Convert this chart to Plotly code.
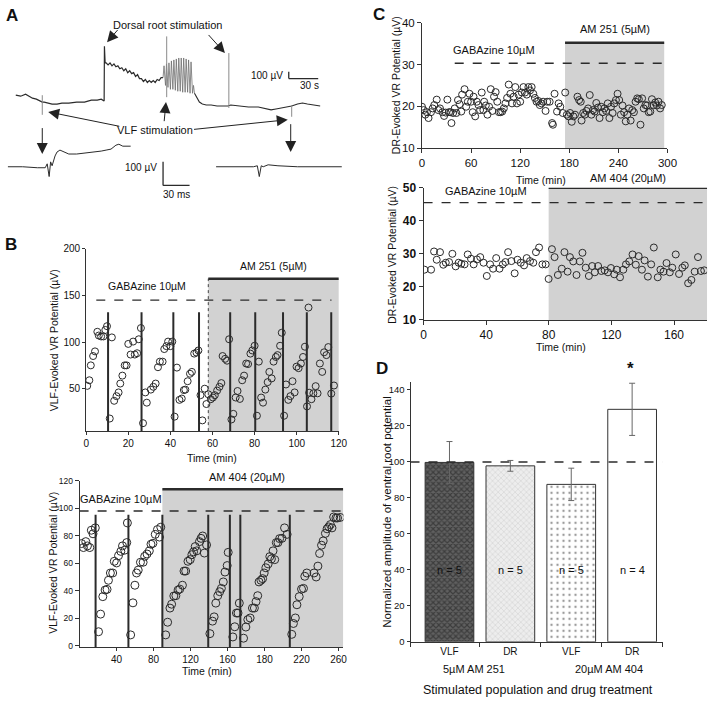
import plotly.graph_objects as go

FONT = "Arial, 'Liberation Sans', sans-serif"
W, H = 720, 705

# ---------------- Panel A: raw traces (panel units) ----------------
a_pre_t = [13, 18, 23, 27, 30, 34, 38, 40, 42, 46, 50, 55, 60, 67, 75, 83, 90, 96, 100, 103,
           103.3, 104, 105, 107, 109, 111, 113, 115, 117, 119, 121, 123, 125, 127, 129, 131, 133,
           135, 137, 139, 141, 143, 145, 147, 149, 151, 153, 155, 157, 159, 161, 163]
a_pre_v = [90, 91, 89, 91, 93, 94, 96, 97, 97, 98, 99, 99, 98, 98, 97, 97, 95, 95, 94, 96,
           40, 57, 57, 59, 57, 60, 58, 61, 60, 63, 62, 65, 63, 67, 65, 68, 67,
           71, 69, 73, 73, 76, 74, 77, 75, 77, 75, 77, 74, 75, 72, 72]
a_burst_t = [163, 164, 165.5, 166.5, 168, 169, 170.5, 171.5, 173, 174, 175.5, 176.5, 178, 179, 180.5,
             181.5, 183, 184, 185.5, 186.5, 188, 189, 190.5, 191.5, 193, 194, 195]
a_burst_v = [72, 60, 80, 58, 82, 57, 84, 55, 84, 54, 85, 53, 86, 52, 86,
             52, 87, 52, 87, 53, 87, 54, 88, 56, 88, 80, 88]
a_post_t = [195, 197, 200, 203, 207, 212, 218, 224, 229, 232, 240, 250, 260, 270, 273, 278, 285, 290,
            294, 300, 305, 310, 316, 323]
a_post_v = [88, 92, 97, 99, 100, 100, 101, 101, 101, 100, 101, 102, 102, 104, 105, 104, 103, 102,
            101, 99, 98, 99, 100, 101]
a_stim_t = [40, 166.7, 230, 294]
a_stim_top = [90, 30, 47, 100]
a_stim_bot = [110, 92, 103, 112]
a_left_t = [5, 20, 35, 43, 45, 47, 48.5, 50, 53, 55, 58, 62, 67, 75, 85, 95, 100, 105, 110, 115, 118, 122, 126, 130]
a_left_v = [163, 163, 164, 164, 160, 173, 158, 162, 152, 148, 146, 148, 150, 150, 149, 148, 147, 146, 145, 141, 140, 142, 142, 142]
a_right_t = [217, 235, 255, 259, 261, 263, 265, 270, 280, 300, 320, 345]
a_right_v = [163, 163, 163, 162, 173, 162, 163, 161, 162, 163, 163, 163]

# ---------------- Panel B top: VLF, AM 251 ----------------
b1_t = [0.5, 1.5, 2.2, 3.3, 4.2, 5.3, 6.0, 7.1, 8.2, 9.1, 9.9, 11.2, 12.2,
        13.3, 14.4, 15.4, 16.2, 17.2, 18.3, 19.2, 20.0, 21.1, 22.3, 23.1, 24.2, 25.0, 26.0, 27.0, 28.1,
        28.8, 30.7, 31.9, 33.0, 34.1, 35.0, 36.3, 37.1, 38.1, 38.9, 40.0, 40.9, 42.0, 43.1,
        44.3, 45.4, 46.4, 47.1, 48.2, 49.3, 50.2, 51.3, 52.4, 53.3, 54.3, 55.2, 56.3, 57.1, 58.0,
        59.2, 60.2, 61.1, 62.2, 63.3, 64.2, 64.8, 66.0, 66.9, 67.9, 69.0, 69.9, 71.0, 71.9, 73.0,
        74.1, 75.0, 76.0, 76.9, 78.0, 78.9, 80.0, 81.1, 82.0, 83.1, 84.0, 85.1, 86.2, 87.0, 88.1,
        89.0, 90.1, 90.9, 92.1, 92.9, 94.0, 94.9, 96.0, 97.0, 98.0, 99.0, 99.9, 100.9, 102.0,
        103.0, 103.9, 104.9, 105.6, 105.9, 107.0, 107.9, 109.0, 109.9, 111.0, 112.1, 113.0, 114.1,
        115.0, 116.4, 117.7]
b1_v = [53, 59, 75, 85, 90, 111, 107, 106, 106, 113, 117, 18, 105,
        37, 42, 46, 55.5, 64, 75, 75, 98, 86.6, 100.5, 86.6, 88, 103, 115, 13, 46,
        35, 49, 52, 55.5, 73, 79, 79, 92.5, 95.6, 100.5, 95.6, 100.5, 20, 72.6,
        38, 39.4, 48.5, 49, 58, 66, 68, 87.6, 88.7, 91, 43, 16, 50, 33.5, 44,
        38.7, 40.5, 43, 48, 52, 56, 85, 82, 80, 103, 17, 23, 40.5, 47.5, 39,
        59, 64, 77, 76.4, 87.6, 91, 96, 21, 79, 40.5, 35, 49, 57, 68, 61,
        79, 84, 86, 96, 110, 21, 54.5, 38, 42, 58, 46, 73.6, 72, 77,
        84, 95, 31, 137, 45.7, 38.7, 45, 52.7, 45, 77, 68, 89, 86,
        94.6, 44.7, 53.4]
b1_resets = [10.4, 26.3, 41.4, 53.6, 68.4, 80.3, 93.5, 104.8, 116.4]
b1_reset_top = 132
b1_gaba_level = 145
b1_gaba_span = [4.8, 116.5]
b1_drug_span = [58, 120]
b1_drug_bar = 168
b1_ticks = [0, 20, 40, 60, 80, 100, 120]
b1_yticks = [50, 100, 150, 200]

# ---------------- Panel B bottom: VLF, AM 404 ----------------
b2_t = [2.1, 4.2, 6.7, 8.5, 11.0, 12.7, 14.5, 17.0,
        20.5, 22.7, 25.1, 27.6, 29.7, 31.2, 33.3, 35.8, 37.5, 40.0, 42.1, 44.6, 46.4, 48.8, 51.0, 51.7,
        55.2, 57.7, 59.8, 61.6, 63.4, 65.8, 68.7, 70.4, 72.9, 75.4, 77.2, 79.3, 81.8, 84.2, 86.4, 87.8,
        93.1, 95.2, 97.7, 99.5, 101.9, 104.1, 106.5, 108.3, 111.2, 112.9, 114.7, 117.2, 119.6, 121.4,
        123.2, 125.0, 126.7, 129.6, 131.3, 133.1, 134.9, 137.3,
        140.9, 143.7, 145.5, 147.3, 149.4, 151.5, 153.3, 155.4, 157.2, 159.6, 160.7,
        165.7, 167.8, 169.6, 171.3, 172.7,
        177.3, 179.8, 181.9, 184.4, 186.9, 189.0, 190.8, 192.6, 194.0, 196.1, 197.9, 199.6, 201.4,
        203.9, 205.7, 207.4, 209.2, 211.0, 212.7, 214.5, 216.3, 218.8, 221.6, 224.4,
        229.4, 231.2, 233.3, 235.0, 237.5, 240.0, 242.1, 243.5, 245.7, 253.5, 255.8, 257.7, 259.5,
        261.6, 263.4, 265.8, 267.6, 269.4, 271.2, 272.9, 274.7, 277.2, 278.9, 281.8]
b2_v = [74.3, 71.4, 75.7, 72.6, 71.4, 84, 81.4, 85.7,
        10.2, 23, 35.7, 40.5, 41, 47.6, 52.9, 52.9, 61.4, 60.2, 65.5, 68.6, 72.6, 69.5, 75, 89.3,
        7.9, 31.2, 44, 52.9, 55, 60.7, 60.7, 65, 66.7, 69, 73.8, 74.5, 81, 84.5, 79, 86.2,
        7.9, 17.1, 27.4, 30.2, 36.2, 36.4, 40.5, 41.2, 44, 54.3, 54.3, 61.4, 62.6, 66.2,
        68.3, 72.1, 69, 75.7, 78.1, 79.8, 67.4, 73.3,
        8.8, 17.9, 21, 31, 36.4, 39.3, 41.7, 46.4, 53.6, 58.3, 67.9,
        6.4, 13.8, 23.8, 23.8, 31,
        5.5, 13.6, 19, 20.2, 27.4, 27.4, 32.1, 36.4, 46.4, 47.6, 48.8, 52.9, 56.7,
        59.5, 64.8, 63.1, 69, 62.6, 75, 75, 77.9, 78.1, 85.7, 81,
        8.3, 16.2, 20.2, 29.8, 35.7, 41.2, 41.7, 50.5, 52.9, 52.9, 50, 57.9, 67.1,
        73.1, 76.2, 81.7, 85, 86.4, 88.1, 85.7, 93.6, 92.9, 92.9, 93.3]
b2_resets = [17.3, 52.8, 89.5, 139.1, 162.5, 173.8, 227.3]
b2_reset_top = 95.2
b2_gaba_level = 98
b2_drug_span = [89.5, 285]
b2_drug_bar = 113.8
b2_tickvals = [40, 80, 120, 160, 200, 240, 280]
b2_ticktext = ["40", "80", "120", "160", "180", "220", "260"]
b2_yticks = [0, 20, 40, 60, 80, 100, 120]

# ---------------- Panel C top: DR, AM 251 ----------------
c1_t = [0, 2, 4, 6, 8, 11, 13, 15, 18, 20, 22, 25, 27, 29, 31, 33, 35, 36, 38, 40, 42, 44, 46, 48, 49,
        52, 54, 56, 58, 60, 62, 63, 65, 67, 69, 71, 73, 75, 76, 78, 80, 82, 84, 86, 88, 90, 92, 94,
        96, 98, 100, 102, 104, 106, 108, 110, 112, 114, 116, 118, 120, 122, 124, 126, 128, 130, 132,
        134, 136, 138, 140, 142, 144, 146, 148, 151, 153, 156, 159, 160, 162, 165, 167, 169, 172,
        175, 177, 179, 181, 183, 185, 187, 190, 192, 194, 195, 197, 199, 201, 203, 205, 207, 209,
        211, 213, 215, 217, 219, 221, 223, 225, 227, 229, 231, 233, 235, 237, 239, 241, 243, 245,
        247, 249, 251, 253, 255, 257, 259, 261, 263, 265, 267, 269, 271, 273, 275, 277, 279, 281,
        283, 285, 287, 289, 291, 293]
c1_v = [19.9, 19.1, 18, 18.6, 17.2, 18.6, 19.5, 20.3, 21.6, 19.1, 19.5, 18.6, 17.7, 18.5, 21.6,
        18.6, 18.6, 16, 18.4, 19.5, 18.4, 21.5, 20.5, 18.75, 22.8, 24.1, 19.9, 21.1, 23, 21.1,
        18.6, 22.3, 17.6, 21.1, 20.3, 19.1, 23.3, 19.1, 21.1, 20.2, 18, 19.9, 24.1, 18.9, 22.3,
        23.4, 21.1, 18.6, 18.6, 18.75, 19.5, 20.7, 22, 25.2, 23, 20.7, 22.3, 24.6, 20.7, 22.8,
        21.1, 23.3, 24.6, 23.3, 22.8, 24.6, 23.8, 24.6, 23, 22, 21.1, 21.3, 20.3, 20.7, 21.1,
        18.9, 21.1, 21.1, 16, 15.6, 23, 18.75, 20.7, 19.9, 18.4, 23.3, 18, 17.6, 18.4, 16.3,
        17.6, 18, 22.3, 21.5, 21.1, 16.6, 18.4, 18, 18.9, 19.5, 22.7, 18, 19.1, 18.75, 20.8,
        19.7, 17.2, 19.9, 18.6, 19.5, 18.9, 20.7, 17.2, 19.9, 18.4, 20.7, 21.5, 23, 21.5, 18,
        20.2, 18.6, 16.4, 18, 19.5, 16.6, 19.1, 18.6, 21.1, 21.9, 21.7, 15.6, 21.9, 19.5, 20.3,
        20.2, 18.6, 18.75, 21.7, 20.3, 20.9, 20.2, 21.1, 19.5, 20.3]
c1_gaba_level = 30.3
c1_gaba_span = [40, 296]
c1_drug_span = [174.8, 296]
c1_drug_bar = 35.2
c1_xticks = [0, 60, 120, 180, 240, 300]
c1_yticks = [10, 20, 30, 40]

# ---------------- Panel C bottom: DR, AM 404 ----------------
c2_t = [0.6, 4.8, 6.7, 8.4, 10.5, 12.6, 14.2, 16.3, 18.4, 20.5, 22.4, 24.1, 26.2, 28.2, 30.3, 32,
        34.1, 36.2, 38.3, 40.4, 42.5, 44.4, 46.4, 48.5, 50.6, 52.3, 54, 56.1, 58.2, 60, 62.1, 64.2,
        65.9, 68, 70.1, 71.8, 73.8, 75.9, 78, 79.9, 82, 83.7, 85.8, 88.3, 90, 92, 93.5, 95.6, 97.7,
        99.8, 101.5, 103.6, 105.6, 107.7, 109.4, 111.5, 113.6, 115.7, 117.8, 119.7, 121.8, 123.4,
        125.5, 127.6, 129.3, 131.4, 133.5, 135.6, 137.4, 139.5, 141.2, 143.3, 145.4, 147.1, 149.6,
        151.3, 153.3, 155.2, 157.3, 158.9, 161.1, 163.2, 165.3, 166.9, 169, 171.1, 173.2, 175.3,
        177.2, 179.3]
c2_v = [25.2, 25.2, 30.7, 28.2, 30.5, 26.7, 27.3, 27.5, 30, 26.2, 27.3, 27, 26.8, 29.8, 28.5, 26.8,
        28.3, 29, 27.3, 23.3, 26.8, 25.5, 28.7, 25.5, 26.8, 27.5, 30.5, 27.8, 24.1, 28.2, 27.3, 26.5,
        28.7, 27.8, 27.3, 30.5, 31.9, 26.8, 26.8, 22.4, 31.4, 29, 23.6, 25.5, 30.5, 24.6, 29, 27.7,
        23.6, 27.7, 30.3, 25.8, 23.3, 26.3, 24.4, 26.3, 24.8, 25, 24.4, 25.7, 23.8, 25.2, 22.9,
        25.2, 26.8, 27.7, 29.8, 26.7, 29.3, 25.2, 28, 23.1, 26.8, 31.9, 22.9, 25.2, 24.6, 27.2,
        24.4, 25.8, 29.8, 23.9, 25.8, 26.5, 21.1, 22.1, 24.6, 29, 24.8, 25]
c2_gaba_level = 45.5
c2_drug_span = [79.9, 181.4]
c2_drug_bar = 50
c2_xticks = [0, 40, 80, 120, 160]
c2_yticks = [10, 20, 30, 40, 50]

# ---------------- Panel D: normalized amplitude ----------------
d_pos = [0, 1, 2, 3]
d_population = ["VLF", "DR", "VLF", "DR"]
d_treatment = ["5µM AM 251", "20µM AM 404"]
d_mean = [99.7, 97.8, 87.5, 129.2]
d_err = [11.6, 3.0, 9.0, 14.5]
d_n = ["n = 5", "n = 5", "n = 5", "n = 4"]
d_yticks = [0, 20, 40, 60, 80, 100, 120, 140]
d_ref = 100

# ================= figure =================
def dom_x(x0, x1):
    return [x0 / W, x1 / W]

def dom_y(top, bottom):
    return [1 - bottom / H, 1 - top / H]

DARK = "#2b2b2b"
SHADE = "#d2d2d2"
MK = dict(symbol="circle-open", size=7, color=DARK, line=dict(width=1, color=DARK))

fig = go.Figure()

# Panel A traces
for xs, ys, col, wd in [(a_pre_t, a_pre_v, DARK, 1.2), (a_burst_t, a_burst_v, "#6e6e6e", 0.8),
                        (a_post_t, a_post_v, DARK, 1.1), (a_left_t, a_left_v, DARK, 1),
                        (a_right_t, a_right_v, DARK, 1)]:
    fig.add_trace(go.Scatter(x=xs, y=ys, mode="lines", line=dict(color=col, width=wd),
                             xaxis="x", yaxis="y", hoverinfo="skip"))
for t, top, bot in zip(a_stim_t, a_stim_top, a_stim_bot):
    fig.add_trace(go.Scatter(x=[t, t], y=[top, bot], mode="lines", line=dict(color="#8a8a8a", width=1),
                             xaxis="x", yaxis="y", hoverinfo="skip"))

# scatter panels
fig.add_trace(go.Scatter(x=b1_t, y=b1_v, mode="markers", marker=MK, xaxis="x2", yaxis="y2"))
fig.add_trace(go.Scatter(x=b2_t, y=b2_v, mode="markers", marker=dict(MK, size=8), xaxis="x3", yaxis="y3"))
fig.add_trace(go.Scatter(x=c1_t, y=c1_v, mode="markers", marker=MK, xaxis="x4", yaxis="y4"))
fig.add_trace(go.Scatter(x=c2_t, y=c2_v, mode="markers", marker=MK, xaxis="x5", yaxis="y5"))

# Panel D bars
patterns = [dict(shape="x", fgcolor="#1a1a1a", bgcolor="#606060", size=4, solidity=0.5),
            dict(shape="x", fgcolor="#bdbdbd", bgcolor="#ededed", size=4, solidity=0.3),
            dict(shape=".", fgcolor="#333333", bgcolor="#ffffff", size=6, solidity=0.12),
            dict(shape="", fgcolor="#ffffff", bgcolor="#ffffff")]
for i in range(4):
    fig.add_trace(go.Bar(x=[d_pos[i]], y=[d_mean[i]], width=0.8,
                         marker=dict(color="white", pattern=patterns[i], line=dict(color="#333", width=1)),
                         error_y=dict(type="data", array=[d_err[i]], color="#666", thickness=1, width=3),
                         xaxis="x6", yaxis="y6"))

shapes = []
annotations = []

def vline(ax, x, y0, y1, color=DARK, width=2, dash="solid"):
    shapes.append(dict(type="line", xref=ax[0], yref=ax[1], x0=x, x1=x, y0=y0, y1=y1,
                       line=dict(color=color, width=width, dash=dash), layer="above"))

def hline(ax, x0, x1, y, color=DARK, width=2, dash="solid"):
    shapes.append(dict(type="line", xref=ax[0], yref=ax[1], x0=x0, x1=x1, y0=y, y1=y,
                       line=dict(color=color, width=width, dash=dash), layer="above"))

def shade(ax, x0, x1, y0, y1):
    shapes.append(dict(type="rect", xref=ax[0], yref=ax[1], x0=x0, x1=x1, y0=y0, y1=y1,
                       fillcolor=SHADE, line=dict(width=0), layer="below"))

def text(ax, x, y, s, size=10, **kw):
    annotations.append(dict(xref=ax[0], yref=ax[1], x=x, y=y, text=s, showarrow=False,
                            font=dict(family=FONT, size=size, color="#111"), **kw))

def ptext(x, y, s, size=10.5, angle=0, bold=False):
    annotations.append(dict(xref="paper", yref="paper", x=x / W, y=1 - y / H,
                            text=("<b>%s</b>" % s) if bold else s, showarrow=False,
                            textangle=angle, xanchor="center", yanchor="middle",
                            font=dict(family=FONT, size=size, color="#111")))

# B top
B1 = ("x2", "y2")
shade(B1, b1_drug_span[0], b1_drug_span[1], 4.5, b1_drug_bar)
vline(B1, b1_drug_span[0], 4.5, b1_drug_bar, color="#444", width=1, dash="dot")
hline(B1, b1_drug_span[0], b1_drug_span[1], b1_drug_bar, width=2.5)
hline(B1, b1_gaba_span[0], b1_gaba_span[1], b1_gaba_level, width=1.3, dash="dash")
for t in b1_resets:
    vline(B1, t, 4.5, b1_reset_top, width=2)
text(B1, 29, b1_gaba_level + 7, "GABAzine 10µM", size=10.5, xanchor="center", yanchor="bottom")
text(B1, 89, b1_drug_bar + 5, "AM 251 (5µM)", size=10.5, xanchor="center", yanchor="bottom")

# B bottom
B2 = ("x3", "y3")
shade(B2, b2_drug_span[0], b2_drug_span[1], -1, b2_drug_bar)
hline(B2, b2_drug_span[0], b2_drug_span[1], b2_drug_bar, width=2.5)
hline(B2, 0, b2_drug_span[1], b2_gaba_level, width=1.5, dash="dash")
for t in b2_resets:
    vline(B2, t, -1, b2_reset_top, width=2)
text(B2, 45, b2_gaba_level + 3, "GABAzine 10µM", size=11, xanchor="center", yanchor="bottom")
text(B2, 181, b2_drug_bar + 3, "AM 404 (20µM)", size=11, xanchor="center", yanchor="bottom")

# C top
C1 = ("x4", "y4")
shade(C1, c1_drug_span[0], c1_drug_span[1], 10, c1_drug_bar)
hline(C1, c1_drug_span[0], c1_drug_span[1], c1_drug_bar, width=2.5)
hline(C1, c1_gaba_span[0], c1_gaba_span[1], c1_gaba_level, width=1.3, dash="dash")
text(C1, 88, c1_gaba_level + 1.3, "GABAzine 10µM", size=11, xanchor="center", yanchor="bottom")
text(C1, 236, c1_drug_bar + 1.3, "AM 251 (5µM)", size=11, xanchor="center", yanchor="bottom")

# C bottom
C2 = ("x5", "y5")
shade(C2, c2_drug_span[0], c2_drug_span[1], 10, c2_drug_bar)
hline(C2, c2_drug_span[0], c2_drug_span[1], c2_drug_bar, width=2.5)
hline(C2, 0, c2_drug_span[1], c2_gaba_level, width=1.3, dash="dash")
text(C2, 40, c2_gaba_level + 1.2, "GABAzine 10µM", size=11, xanchor="center", yanchor="bottom")
ptext(636, 174, "AM 404 (20µM)", size=11)

# D
D = ("x6", "y6")
hline(D, -0.64, 3.5, d_ref, width=1.5, dash="dash")
for i in range(4):
    text(D, d_pos[i], 40, d_n[i], size=11)
ptext(639.5, 369, "*", size=17, bold=True)
ptext(480, 675, d_treatment[0], size=11)
ptext(617, 675, d_treatment[1], size=11)

# Panel A decorations
A = ("x", "y")
def arrow(x0, y0, x1, y1):
    annotations.append(dict(xref="x", yref="y", axref="x", ayref="y", x=x1, y=y1, ax=x0, ay=y0,
                            text="", showarrow=True, arrowhead=2, arrowsize=2.2, arrowwidth=1,
                            arrowcolor="#222"))
text(A, 168, 18, "Dorsal root stimulation", size=11)
arrow(118, 22, 106, 36)
arrow(208, 27, 226, 47)
text(A, 155, 125, "VLF stimulation", size=11)
arrow(120, 122, 46, 107)
arrow(193, 125, 290, 115)
arrow(164, 118, 166, 97)
arrow(40, 122, 40, 150)
arrow(293, 118, 293, 148)
# scale bars
hline(A, 291, 321, 73, width=1.3)
vline(A, 291, 66, 73, width=1.3)
text(A, 287, 70, "100 µV", size=10, xanchor="right")
text(A, 312, 80, "30 s", size=10)
hline(A, 163, 190, 182, width=1.3)
vline(A, 163, 158, 182, width=1.3)
text(A, 159, 164, "100 µV", size=10, xanchor="right")
text(A, 177, 191, "30 ms", size=10)

# panel letters
for s, x, y in [("A", 9, 9), ("B", 8, 242), ("C", 383, 8), ("D", 386, 369)]:
    ptext(x, y, s, size=17, bold=True)

# axis titles
ptext(52, 340, "VLF-Evoked VR Potential (µV)", size=10.5, angle=-90)
ptext(213, 460, "Time (min)", size=10.5)
ptext(51, 567, "VLF-Evoked VR Potential (µV)", size=10.5, angle=-90)
ptext(208, 677, "Time (min)", size=10.5)
ptext(401, 80, "DR-Evoked VR Potential (µV)", size=10.5, angle=-90)
ptext(548, 177, "Time (min)", size=10.5)
ptext(396, 253, "DR-Evoked VR Potential (µV)", size=10.5, angle=-90)
ptext(568, 347, "Time (min)", size=10.5)
ptext(391, 515, "Normalized amplitude of ventral root potential", size=11.5, angle=-90)
ptext(545, 697, "Stimulated population and drug treatment", size=12.5)

def ax_common(**kw):
    d = dict(showgrid=False, zeroline=False, showline=True, linecolor="#333", linewidth=1,
             ticks="outside", ticklen=4, tickcolor="#333", tickwidth=1,
             tickfont=dict(family=FONT, size=10, color="#111"), fixedrange=True)
    d.update(kw)
    return d

fig.update_layout(
    width=W, height=H, margin=dict(l=0, r=0, t=0, b=0),
    paper_bgcolor="white", plot_bgcolor="rgba(0,0,0,0)", showlegend=False, barmode="overlay",
    font=dict(family=FONT, color="#111"),
    xaxis=dict(domain=dom_x(0, 360), range=[0, 360], visible=False, fixedrange=True),
    yaxis=dict(domain=dom_y(0, 200), range=[200, 0], visible=False, fixedrange=True),
    xaxis2=ax_common(domain=dom_x(84.7, 342), range=[0, 120], tickvals=b1_ticks, anchor="y2", ticklen=3),
    yaxis2=ax_common(domain=dom_y(246.7, 432.7), range=[4.5, 200], tickvals=b1_yticks, anchor="x2", ticklen=3),
    xaxis3=ax_common(domain=dom_x(78, 346.7), range=[0, 285.3], tickvals=b2_tickvals, ticktext=b2_ticktext,
                     anchor="y3", ticklen=3),
    yaxis3=ax_common(domain=dom_y(483.3, 653.1), range=[-1, 120], tickvals=b2_yticks, anchor="x3",
                     tickfont=dict(family=FONT, size=8.5, color="#111")),
    xaxis4=ax_common(domain=dom_x(426.7, 676.7), range=[0, 300], tickvals=c1_xticks, anchor="y4",
                     tickfont=dict(family=FONT, size=11.5, color="#111")),
    yaxis4=ax_common(domain=dom_y(16, 144), range=[10, 40], tickvals=c1_yticks, anchor="x4",
                     tickfont=dict(family=FONT, size=11.5, color="#111")),
    xaxis5=ax_common(domain=dom_x(428.3, 717), range=[0, 181.1], tickvals=c2_xticks, anchor="y5",
                     tickfont=dict(family=FONT, size=12, color="#111")),
    yaxis5=ax_common(domain=dom_y(184.3, 319.3), range=[10, 50], tickvals=c2_yticks, anchor="x5",
                     tickfont=dict(family=FONT, size=12, color="#111", weight="bold")),
    xaxis6=ax_common(domain=dom_x(415, 671.7), range=[-0.64, 3.5], tickvals=d_pos, ticktext=d_population,
                     anchor="y6", ticks="", minor=dict(tickvals=[-0.64, 0.5, 1.5, 2.5, 3.5], ticks="outside",
                                                       ticklen=4, tickcolor="#333")),
    yaxis6=ax_common(domain=dom_y(382.4, 647.7), range=[0, 144.5], tickvals=d_yticks, anchor="x6",
                     ticklen=3, tickfont=dict(family=FONT, size=9.5, color="#111")),
    shapes=shapes, annotations=annotations,
)

fig.write_html("out.html", config={"displayModeBar": False},
               post_script="document.body.style.margin='0';document.body.style.overflow='hidden';")
